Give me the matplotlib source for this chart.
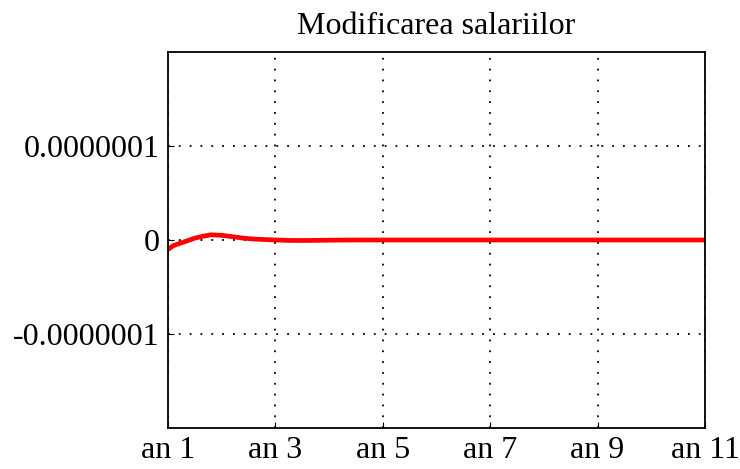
import matplotlib
matplotlib.use("Agg")
import matplotlib.pyplot as plt

# years (an) and change of wages
years = [1.0, 1.1, 1.25, 1.4, 1.5, 1.65, 1.8, 2.0, 2.2, 2.4, 2.6, 2.8, 3.0,
         3.3, 3.6, 4.0, 4.5, 5.0, 6.0, 7.0, 8.0, 9.0, 10.0, 11.0]
wages = [-1.0e-8, -0.6e-8, -0.3e-8, 0.0, 0.2e-8, 0.4e-8, 0.55e-8, 0.5e-8,
         0.35e-8, 0.2e-8, 0.1e-8, 0.05e-8, 0.0, -0.05e-8, -0.05e-8, -0.02e-8,
         0.0, 0.0, 0.0, 0.0, 0.0, 0.0, 0.0, 0.0]

xticks = [1, 3, 5, 7, 9, 11]
xlabels = ["an 1", "an 3", "an 5", "an 7", "an 9", "an 11"]
yticks = [-1e-7, 0, 1e-7]
ylabels = ["-0.0000001", "0", "0.0000001"]

plt.rcParams['font.family'] = ['Liberation Serif', 'DejaVu Serif']

fig = plt.figure(figsize=(7.4, 4.69), dpi=100)
ax = fig.add_axes([168 / 740, 1 - 428 / 469, (705 - 168) / 740, (428 - 52) / 469])

ax.plot(years, wages, color='#ff0000', linewidth=3.4)

ax.set_xlim(1, 11)
ax.set_ylim(-2e-7, 2e-7)
ax.set_xticks(xticks)
ax.set_xticklabels(xlabels)
ax.set_yticks(yticks)
ax.set_yticklabels(ylabels)
ax.tick_params(direction='in', length=4, labelsize=23, pad=6, color='black')
ax.grid(True, color='black', linestyle=(0, (1, 5)), linewidth=1.3)
for s in ax.spines.values():
    s.set_linewidth(1.3)

ax.set_title('Modificarea salariilor', fontsize=23, pad=13)

fig.savefig('out.png', dpi=100)
